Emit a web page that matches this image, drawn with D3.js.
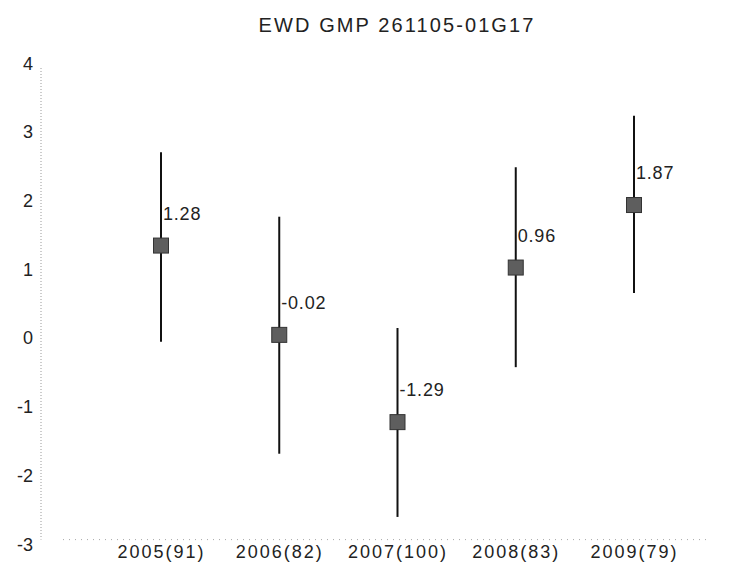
<!DOCTYPE html>
<html><head><meta charset="utf-8">
<script src="https://cdn.jsdelivr.net/npm/d3@7"></script>
<style>
html,body{margin:0;padding:0;background:#fff;}
svg{display:block;}
text{font-family:"Liberation Sans",Arial,sans-serif;fill:#222;}
</style></head>
<body>
<svg id="chart" width="738" height="574"></svg>
<script>
const title = "EWD GMP 261105-01G17";
const categories = ["2005(91)", "2006(82)", "2007(100)", "2008(83)", "2009(79)"];
const means = [1.28, -0.02, -1.29, 0.96, 1.87];
const upper = [2.64, 1.70, 0.08, 2.42, 3.17];
const lower = [-0.12, -1.75, -2.67, -0.49, 0.59];
const yTicks = [4, 3, 2, 1, 0, -1, -2, -3];

const data = categories.map((c, i) => ({cat: c, mean: means[i], hi: upper[i], lo: lower[i]}));
const hy = s => s.replace("\u2212", "-");

const svg = d3.select("#chart");
const x = d3.scalePoint().domain(categories).range([161, 634]);
const y = d3.scaleLinear().domain([-3, 4]).range([539.6, 58.7]);

// title
svg.append("text").attr("x", 397).attr("y", 32).attr("text-anchor", "middle")
  .style("font-size", "20px").style("letter-spacing", "2.1px").text(title);

// frame (dotted axes)
svg.append("line").attr("x1", 41).attr("x2", 41).attr("y1", 68).attr("y2", y(-3))
  .attr("stroke", "#9a9a9a").attr("stroke-width", 1).attr("stroke-dasharray", "1,2");
svg.append("line").attr("x1", 63).attr("x2", 707).attr("y1", y(-3)).attr("y2", y(-3))
  .attr("stroke", "#a8a8a8").attr("stroke-width", 1).attr("stroke-dasharray", "1,5");

// y axis labels
const yAxis = d3.axisLeft(y).tickValues(yTicks).tickSize(0).tickPadding(8).tickFormat(d => hy(d3.format("d")(d)));
const gy = svg.append("g").attr("transform", "translate(41,0)").call(yAxis);
gy.select(".domain").remove();
gy.selectAll("text").style("font-size", "18px").style("font-family", "'Liberation Sans',Arial,sans-serif")
  .attr("fill", "#222").attr("dy", "0.58em");

// x axis labels
const xAxis = d3.axisBottom(x).tickSize(0).tickPadding(0);
const gx = svg.append("g").attr("transform", `translate(0,${y(-3)})`).call(xAxis);
gx.select(".domain").remove();
gx.selectAll("text").style("font-size", "18px").style("font-family", "'Liberation Sans',Arial,sans-serif")
  .style("letter-spacing", "2px").attr("fill", "#222").attr("dy", "1.0em");

// error bars
svg.append("g").selectAll("line").data(data).join("line")
  .attr("x1", d => x(d.cat)).attr("x2", d => x(d.cat))
  .attr("y1", d => y(d.hi)).attr("y2", d => y(d.lo))
  .attr("stroke", "#111").attr("stroke-width", 2);

// markers
const ms = 15;
svg.append("g").selectAll("rect").data(data).join("rect")
  .attr("x", d => x(d.cat) - ms / 2).attr("y", d => y(d.mean) - ms / 2)
  .attr("width", ms).attr("height", ms)
  .attr("fill", "#5e5e5e").attr("stroke", "#333").attr("stroke-width", 1);

// value labels
svg.append("g").selectAll("text").data(data).join("text")
  .attr("x", d => x(d.cat) + 2).attr("y", d => y(d.mean) - 26)
  .style("font-size", "18px").style("letter-spacing", "0.8px")
  .text(d => hy(d3.format(".2f")(d.mean)));
</script>
</body></html>
